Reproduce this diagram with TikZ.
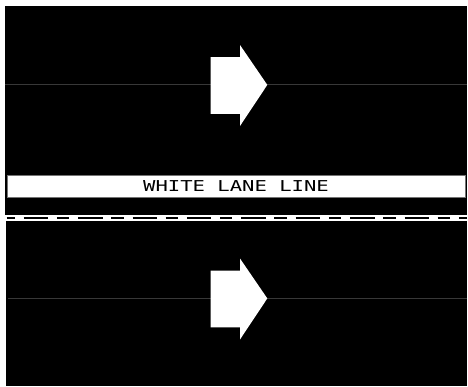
\documentclass[tikz,border=0pt]{standalone}
\usepackage{fontspec}
\newfontfamily\lanefont[FakeStretch=1.37]{DejaVu Sans Mono}
\usetikzlibrary{positioning}
\tikzset{
  lanebg/.style={fill=black},
  lanemid/.style={draw=black!78, line width=0.9pt},
  lanearrow/.style={fill=white},
  divider/.style={draw=black, line width=2.8pt,
    dash pattern=on 12.3pt off 9pt on 24.4pt off 8.7pt, dash phase=4.3pt},
  linelabel/.style={
    rectangle, draw=black!55, fill=white, line width=0.6pt,
    minimum width=458pt, minimum height=22pt, inner sep=0pt,
    font=\lanefont\fontsize{15}{15}\selectfont
  },
}

\begin{document}
\begin{tikzpicture}[x=1pt, y=-1pt]
  \useasboundingbox (0,0) rectangle (468,386);
  \fill[white] (0,0) rectangle (468,386);
  % two lanes
  \fill[lanebg] (5,6) rectangle (467,215);
  \fill[lanebg] (6,221) rectangle (467,386);
  \coordinate (upW) at (5,84.5);   \coordinate (upE) at (467,84.5);
  \coordinate (loW) at (8,298.5);  \coordinate (loE) at (467,298.5);
  \draw[lanemid] (upW) -- (upE);
  \draw[lanemid] (loW) -- (loE);
  % direction arrows
  \foreach \yc in {85.5, 299} {
    \fill[lanearrow] (210.7,\yc-28.3) -- (240,\yc-28.3) -- (240,\yc-40.5)
      -- (267.3,\yc-0.6) -- (240,\yc+40.5) -- (240,\yc+28.3)
      -- (210.7,\yc+28.3) -- cycle;
  }
  % lane line label and divider
  \node (label) [linelabel] at (236,186) {WHITE LANE LINE};
  \coordinate (divW) at (6.7,218);
  \coordinate (divE) at (467,218);
  \draw[divider] (divW) -- (divE);
\end{tikzpicture}
\end{document}
